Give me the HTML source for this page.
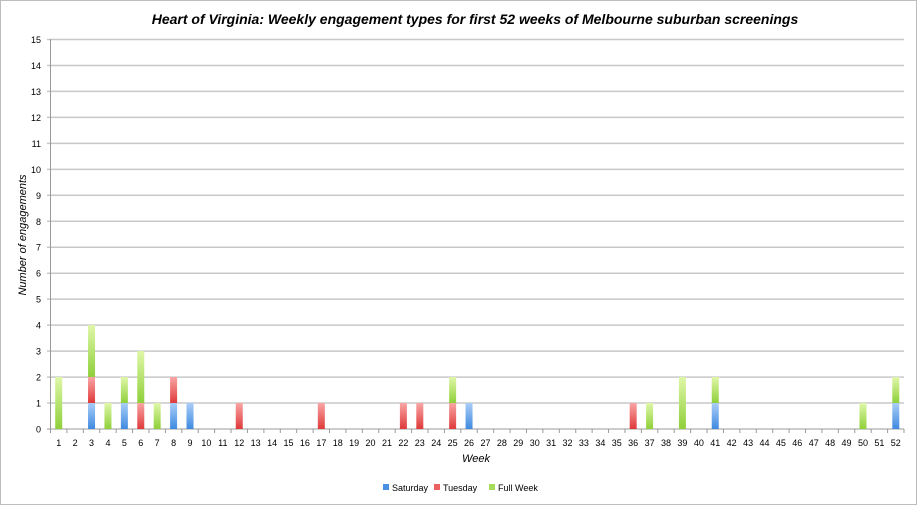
<!DOCTYPE html>
<html><head><meta charset="utf-8"><style>
html,body{margin:0;padding:0;background:#fff;}
svg{display:block;font-family:"Liberation Sans",sans-serif;}
</style></head><body>
<svg id="c" width="918" height="506" xmlns="http://www.w3.org/2000/svg">
<defs>
<linearGradient id="gS" x1="0" y1="0" x2="0" y2="1"><stop offset="0" stop-color="#a9cdf7"/><stop offset="1" stop-color="#3f8ae0"/></linearGradient>
<linearGradient id="gT" x1="0" y1="0" x2="0" y2="1"><stop offset="0" stop-color="#f9a5a5"/><stop offset="1" stop-color="#e03a3a"/></linearGradient>
<linearGradient id="gF" x1="0" y1="0" x2="0" y2="1"><stop offset="0" stop-color="#dff7a8"/><stop offset="1" stop-color="#8fd03a"/></linearGradient>
</defs>
<rect x="0.5" y="0.5" width="916" height="504" fill="#fff" stroke="#bdbdbd"/>
<text x="475" y="24" text-anchor="middle" font-size="14" font-weight="bold" font-style="italic">Heart of Virginia: Weekly engagement types for first 52 weeks of Melbourne suburban screenings</text>
<g id="g"></g>
<text transform="translate(26,235) rotate(-90)" text-anchor="middle" font-size="11" font-style="italic">Number of engagements</text>
<text x="476" y="462" text-anchor="middle" font-size="11" font-style="italic">Week</text>
<rect x="383" y="484" width="6" height="6" fill="#4a90e2"/><text x="392" y="491" font-size="9">Saturday</text>
<rect x="434" y="484" width="6" height="6" fill="#ec5f5f"/><text x="443" y="491" font-size="9">Tuesday</text>
<rect x="489" y="484" width="6" height="6" fill="#a5dc5a"/><text x="498" y="491" font-size="9">Full Week</text>
</svg>
<script>
var g=document.getElementById('g'),ns='http://www.w3.org/2000/svg',h='';
var x0=50.5,x1=904,y0=429,u=(429-39.5)/15,cw=(x1-x0)/52;
for(var i=0;i<=15;i++){var y=y0-i*u;h+='<line x1="47" x2="'+x1+'" y1="'+y+'" y2="'+y+'" stroke="'+(i?'#c8c8c8':'#999')+'" stroke-width="'+(i?1.5:1)+'"/>';h+='<text x="41" y="'+(y+3.5)+'" text-anchor="end" font-size="9">'+i+'</text>';}
h+='<line x1="'+x0+'" x2="'+x0+'" y1="39" y2="'+y0+'" stroke="#999"/>';
for(var k=0;k<=52;k++){var x=x0+k*cw;h+='<line x1="'+x+'" x2="'+x+'" y1="'+y0+'" y2="'+(y0+4)+'" stroke="#999"/>';}
for(var k=1;k<=52;k++){h+='<text x="'+(x0+(k-0.5)*cw)+'" y="446" text-anchor="middle" font-size="9">'+k+'</text>';}
var d={1:[0,0,2],3:[1,1,2],4:[0,0,1],5:[1,0,1],6:[0,1,2],7:[0,0,1],8:[1,1,0],9:[1,0,0],12:[0,1,0],17:[0,1,0],22:[0,1,0],23:[0,1,0],25:[0,1,1],26:[1,0,0],36:[0,1,0],37:[0,0,1],39:[0,0,2],41:[1,0,1],50:[0,0,1],52:[1,0,1]};
var f=['url(#gS)','url(#gT)','url(#gF)'];
for(var w in d){var c=x0+(w-0.5)*cw,b=y0;for(var s=0;s<3;s++){var v=d[w][s];if(!v)continue;var hh=v*u;h+='<rect x="'+(c-3.5)+'" y="'+(b-hh)+'" width="7" height="'+hh+'" fill="'+f[s]+'"/>';b-=hh;}}
g.innerHTML=h;
</script>
</body></html>
